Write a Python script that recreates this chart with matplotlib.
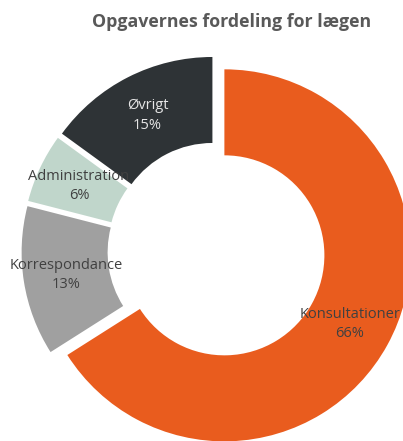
import matplotlib
matplotlib.use('Agg')
import matplotlib.pyplot as plt

categories = ['Konsultationer', 'Korrespondance', 'Administration', 'Øvrigt']
shares = [66, 13, 6, 15]
colors = ['#E95C1E', '#A0A0A0', '#C0D6CB', '#2E3336']
label_colors = ['#404040', '#404040', '#404040', '#E6E6E6']

plt.rcParams['font.family'] = ['Open Sans', 'DejaVu Sans']

W, H = 403, 441
fig = plt.figure(figsize=(W / 100, H / 100), dpi=100)
ax = fig.add_axes([0, 0, 1, 1])

# geometry in pixel units
cx, cy = 216.5, H - 251
R = 186
hole = 100
expl = 9

labels = [f'{c}\n{v}%' for c, v in zip(categories, shares)]
wedges, texts = ax.pie(shares, labels=labels, colors=colors, startangle=90,
                       counterclock=False, center=(cx, cy), radius=R,
                       explode=[expl] * len(shares),
                       labeldistance=(R + hole) / 2 / R,
                       wedgeprops={'width': R - hole, 'clip_on': True,
                                   'linewidth': 0},
                       textprops={'ha': 'center', 'va': 'center',
                                  'fontsize': 10.5, 'linespacing': 1.4})
for t, c in zip(texts, label_colors):
    t.set_color(c)

ax.set_xlim(0, W)
ax.set_ylim(0, H)
ax.set_aspect('equal')
ax.axis('off')

fig.text(232 / W, 1 - 22 / H, 'Opgavernes fordeling for lægen', ha='center',
         va='center', fontsize=12.8, fontweight='bold', color='#595959')

fig.savefig('out.png', dpi=100)
